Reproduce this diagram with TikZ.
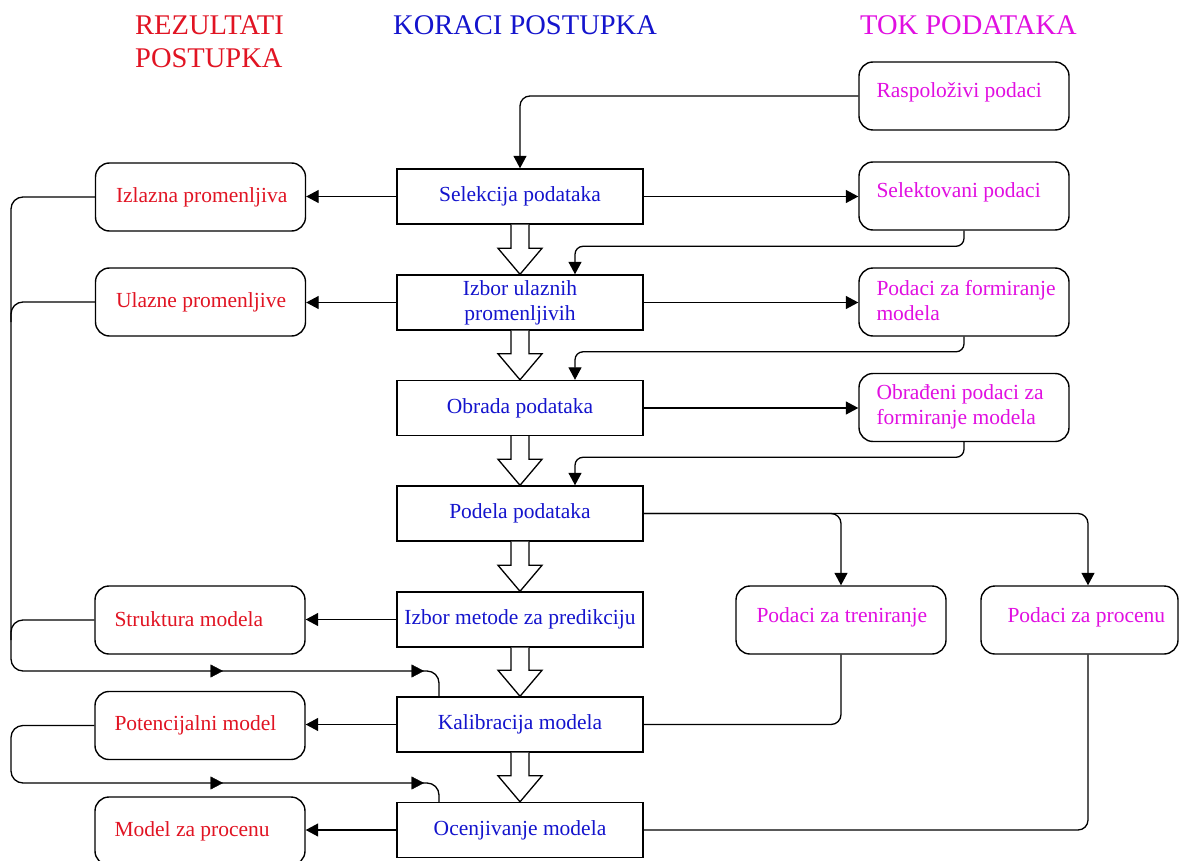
\documentclass[tikz,border=0pt]{standalone}
\usepackage{fontspec}
\setmainfont{Liberation Serif}
\usetikzlibrary{arrows.meta,calc,decorations.markings}

\definecolor{resred}{RGB}{225,20,35}
\definecolor{stepblue}{RGB}{20,20,205}
\definecolor{datamag}{RGB}{225,15,225}

% hollow block arrow from the bottom of one step to the top of the next
\newcommand\hollowarrow[2]{%
  \draw[conn, fill=white]
    ($(#1.south)+(-9,0)$) -- ($(#2.north)+(-9,-26)$) -- ($(#2.north)+(-22,-26)$)
    -- (#2.north) -- ($(#2.north)+(22,-26)$) -- ($(#2.north)+(9,-26)$)
    -- ($(#1.south)+(9,0)$);}

\begin{document}
\begin{tikzpicture}[x=1pt,y=-1pt,
  conn/.style={draw=black, line width=1.3pt},
  arr/.style={conn, -{Triangle[length=12.5pt,width=13pt]}},
  midtips/.style={decoration={markings,
      mark=at position 212pt with {\arrow{Triangle[length=12.5pt,width=13pt]}},
      mark=at position 413pt with {\arrow{Triangle[length=12.5pt,width=13pt]}}},
      postaction=decorate},
  boxfont/.style={font=\fontsize{21.5}{25}\selectfont},
  stepbox/.style={draw, line width=1.4pt, fill=white, minimum width=246pt,
      minimum height=55pt, inner sep=0pt, text=stepblue, align=center, boxfont},
  roundbox/.style={draw, line width=1.4pt, fill=white, rounded corners=14pt,
      minimum width=210pt, minimum height=68pt, inner sep=0pt},
  restext/.style={anchor=west, inner sep=0pt, text=resred, align=left, boxfont},
  datatext/.style={anchor=west, inner sep=0pt, text=datamag, align=left, boxfont},
  titletext/.style={anchor=base west, inner sep=0pt, font=\fontsize{28.5}{33}\selectfont}
]
\useasboundingbox (0,0) rectangle (1180,861);
\fill[white] (0,0) rectangle (1180,861);
\clip (0,0) rectangle (1180,861);

% column headings
\node[titletext, text=resred] (hres1) at (135,35) {REZULTATI};
\node[titletext, text=resred] (hres2) at (135,68) {POSTUPKA};
\node[titletext, text=stepblue] (hstep) at (393,35) {KORACI POSTUPKA};
\node[titletext, text=datamag] (hdata) at (860,35) {TOK PODATAKA};

% procedure steps
\node[stepbox] (sel) at (520,196.5) {Selekcija podataka};
\node[stepbox] (izb) at (520,302.5) {Izbor ulaznih\\promenljivih};
\node[stepbox] (obr) at (520,408) {Obrada podataka};
\node[stepbox] (pod) at (520,513.5) {Podela podataka};
\node[stepbox] (met) at (520,619.5) {Izbor metode za predikciju};
\node[stepbox] (kal) at (520,724.5) {Kalibracija modela};
\node[stepbox] (oce) at (520,830) {Ocenjivanje modela};

% data flow
\node[roundbox] (ras) at (964,96) {};
\node[datatext] (rast) at ([xshift=18pt,yshift=4pt]ras.west) {Raspoloživi podaci};
\node[roundbox] (sel2) at (964,196) {};
\node[datatext] (sel2t) at ([xshift=18pt,yshift=4pt]sel2.west) {Selektovani podaci};
\node[roundbox] (pfm) at (964,302) {};
\node[datatext] (pfmt) at ([xshift=18pt,yshift=1pt]pfm.west) {Podaci za formiranje\\modela};
\node[roundbox] (opf) at (964,407.5) {};
\node[datatext] (opft) at ([xshift=18pt,yshift=1pt]opf.west) {Obrađeni podaci za\\formiranje modela};
\node[roundbox] (tre) at (841,620) {};
\node[datatext] (tret) at ([xshift=21pt,yshift=3pt]tre.west) {Podaci za treniranje};
\node[roundbox, minimum width=197pt] (pro) at (1079.5,620) {};
\node[datatext] (prot) at ([xshift=27pt,yshift=3pt]pro.west) {Podaci za procenu};

% procedure results
\node[roundbox] (izl) at (200.5,197) {};
\node[restext] (izlt) at ([xshift=21pt]izl.west) {Izlazna promenljiva};
\node[roundbox] (ula) at (200.5,302) {};
\node[restext] (ulat) at ([xshift=21pt]ula.west) {Ulazne promenljive};
\node[roundbox] (str) at (200,620) {};
\node[restext] (strt) at ([xshift=20pt,yshift=1pt]str.west) {Struktura modela};
\node[roundbox] (pot) at (200,725.5) {};
\node[restext] (pott) at ([xshift=20pt]pot.west) {Potencijalni model};
\node[roundbox] (mzp) at (200,831) {};
\node[restext] (mzpt) at ([xshift=20pt]mzp.west) {Model za procenu};

% block arrows between steps
\hollowarrow{sel}{izb}
\hollowarrow{izb}{obr}
\hollowarrow{obr}{pod}
\hollowarrow{pod}{met}
\hollowarrow{met}{kal}
\hollowarrow{kal}{oce}

% data connectors
\draw[arr, rounded corners=10pt] (ras.west) -| (sel.north);
\draw[arr] (sel.east) -- (sel.east -| sel2.west);
\draw[arr, rounded corners=8pt] (sel2.south) |- ($(izb.north)+(55,-28)$) -- ($(izb.north)+(55,0)$);
\draw[arr] (izb.east) -- (izb.east -| pfm.west);
\draw[arr, rounded corners=8pt] (pfm.south) |- ($(obr.north)+(55,-28)$) -- ($(obr.north)+(55,0)$);
\draw[arr] (obr.east) -- (obr.east -| opf.west);
\draw[arr, rounded corners=8pt] (opf.south) |- ($(pod.north)+(55,-28)$) -- ($(pod.north)+(55,0)$);
\draw[arr, rounded corners=10pt] (pod.east) -| ([xshift=8.5pt]pro.north);
\draw[arr, rounded corners=10pt] (pod.east) -| (tre.north);
\draw[conn, rounded corners=10pt] (tre.south) |- (kal.east);
\draw[conn, rounded corners=10pt] ([xshift=8.5pt]pro.south) |- (oce.east);

% result connectors
\draw[arr] (sel.west) -- (sel.west -| izl.east);
\draw[arr] (izb.west) -- (izb.west -| ula.east);
\draw[arr] (met.west) -- (met.west -| str.east);
\draw[arr] (kal.west) -- (kal.west -| pot.east);
\draw[arr] (oce.west) -- (oce.west -| mzp.east);

% feedback of results into calibration and evaluation
\coordinate (fbA) at (11,671);
\coordinate (fbB) at (11,783);
\draw[conn, rounded corners=12pt] (izl.west) -| (fbA) -| ([xshift=-81pt]kal.north);
\draw[conn, rounded corners=12pt] (ula.west) -| ([yshift=-20pt]ula.west -| fbA);
\draw[conn, rounded corners=12pt] (str.west) -| ([yshift=-20pt]str.west -| fbA);
\path[midtips] (fbA) -- (fbA -| kal.north);
\draw[conn, rounded corners=12pt] (pot.west) -| (fbB) -| ([xshift=-81pt]oce.north);
\path[midtips] (fbB) -- (fbB -| oce.north);
\end{tikzpicture}
\end{document}
